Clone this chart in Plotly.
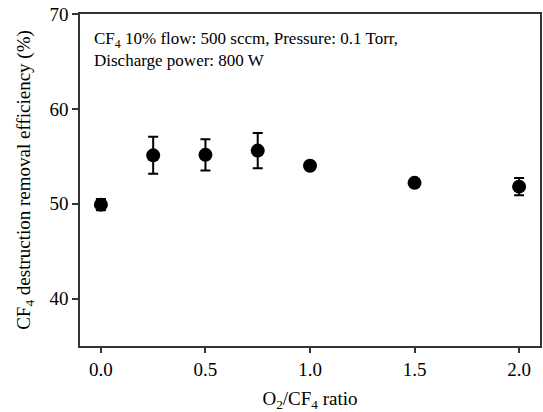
import plotly.graph_objects as go

ratio = [0.0, 0.25, 0.5, 0.75, 1.0, 1.5, 2.0]
efficiency = [49.9, 55.1, 55.15, 55.6, 54.0, 52.2, 51.8]
error = [0.6, 1.95, 1.65, 1.85, 0.3, 0.2, 0.9]
x_ticks = [0.0, 0.5, 1.0, 1.5, 2.0]
x_ticklabels = ["0.0", "0.5", "1.0", "1.5", "2.0"]
y_ticks = [40, 50, 60, 70]

font = "Liberation Serif, Times New Roman, serif"

fig = go.Figure()
fig.add_trace(go.Scatter(
    x=ratio, y=efficiency, mode="markers",
    marker=dict(color="black", size=14, symbol="circle"),
    error_y=dict(type="data", array=error, visible=True, color="black",
                 thickness=2, width=5),
    showlegend=False,
))

fig.update_layout(
    width=543, height=412,
    margin=dict(l=80, r=1, t=14, b=66),
    plot_bgcolor="white", paper_bgcolor="white",
    font=dict(family=font, size=19, color="black"),
    xaxis=dict(
        range=[-0.1, 2.1], tickvals=x_ticks, ticktext=x_ticklabels,
        showgrid=False, zeroline=False, showline=True, linecolor="#333",
        linewidth=1.5, mirror=True, ticks="outside", ticklen=5,
        tickwidth=1.5, tickcolor="#333",
        title=dict(text="O<sub>2</sub>/CF<sub>4</sub> ratio", standoff=14,
                   font=dict(size=19)),
        tickfont=dict(size=19),
    ),
    yaxis=dict(
        range=[35, 70], tickvals=y_ticks,
        showgrid=False, zeroline=False, showline=True, linecolor="#333",
        linewidth=1.5, mirror=True, ticks="outside", ticklen=6,
        tickwidth=1.5, tickcolor="#333",
        title=dict(text="CF<sub>4</sub> destruction removal efficiency (%)",
                   standoff=14, font=dict(size=19)),
        tickfont=dict(size=19),
    ),
    annotations=[dict(
        text="CF<sub>4</sub> 10% flow: 500 sccm, Pressure: 0.1 Torr,<br>Discharge power: 800 W",
        xref="paper", yref="paper", x=0.027, y=0.962,
        xanchor="left", yanchor="top", align="left", showarrow=False,
        font=dict(size=17, family=font, color="black"),
    )],
)

fig.write_html("out.html", config={"displayModeBar": False},
               post_script="document.body.style.margin='0px';")
